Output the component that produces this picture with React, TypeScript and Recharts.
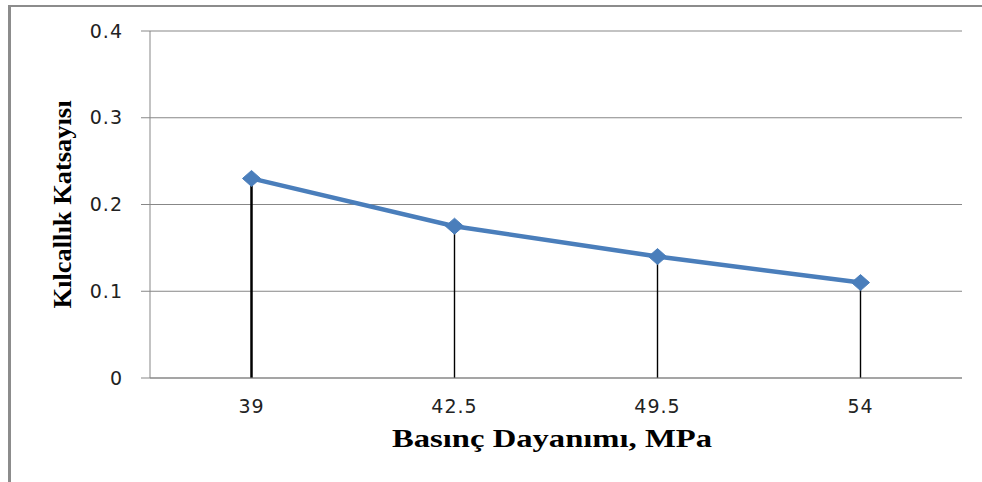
import React from 'react';
import { ComposedChart, Line, Bar, XAxis, YAxis, CartesianGrid, Label } from 'recharts';

const categories = ['39', '42.5', '49.5', '54'];
const kilcallikKatsayisi = [0.23, 0.175, 0.14, 0.11];
const yTicks = [0, 0.1, 0.2, 0.3, 0.4];

const xTitle = 'Basınç Dayanımı, MPa';
const yTitle = 'Kılcallık Katsayısı';

const data = categories.map((c, i) => ({ name: c, value: kilcallikKatsayisi[i] }));

const LINE_COLOR = '#4a7ebb';
const GRID_COLOR = '#878787';

const Diamond = (props: any) => {
  const { cx, cy } = props;
  if (cx == null || cy == null) return null;
  return (
    <polygon
      points={`${cx - 9},${cy} ${cx},${cy - 8} ${cx + 9},${cy} ${cx},${cy + 8}`}
      fill={LINE_COLOR}
      stroke={LINE_COLOR}
      strokeWidth={1}
    />
  );
};

const DropLine = (props: any) => {
  const { x, y, width, height, index } = props;
  if (x == null || y == null) return null;
  const cx = x + width / 2;
  return (
    <line
      x1={cx}
      y1={y}
      x2={cx}
      y2={y + height}
      stroke="#000"
      strokeWidth={index === 0 ? 2.5 : 1.4}
    />
  );
};

const YTitle = (props: any) => {
  const vb = props.viewBox || {};
  const x = (vb.x || 0) + 71;
  const y = (vb.y || 0) + (vb.height || 0) / 2;
  return (
    <text
      x={x}
      y={y}
      transform={`rotate(-90, ${x}, ${y})`}
      textAnchor="middle"
      fontFamily="'Liberation Serif', 'Times New Roman', serif"
      fontWeight="bold"
      fontSize={25}
      fill="#000"
      textLength={208}
      lengthAdjust="spacingAndGlyphs"
    >
      {yTitle}
    </text>
  );
};

const XTitle = (props: any) => {
  const vb = props.viewBox || {};
  const x = (vb.x || 0) + (vb.width || 0) / 2 - 4;
  const y = (vb.y || 0) + 69;
  return (
    <text
      x={x}
      y={y}
      textAnchor="middle"
      fontFamily="'Liberation Serif', 'Times New Roman', serif"
      fontWeight="bold"
      fontSize={25}
      fill="#000"
      textLength={320}
      lengthAdjust="spacingAndGlyphs"
    >
      {xTitle}
    </text>
  );
};

const tickStyle = {
  fontFamily: "'DejaVu Sans', Verdana, sans-serif",
  fontSize: 19,
  fill: '#222',
  letterSpacing: 1,
};

export default function App() {
  return (
    <div
      style={{
        position: 'absolute',
        left: 0,
        top: 0,
        width: 982,
        height: 482,
        overflow: 'hidden',
        background: '#fff',
      }}
    >
      <div
        style={{
          position: 'absolute',
          left: 8,
          top: 5,
          width: 990,
          height: 500,
          borderLeft: '3px solid #8c8c8c',
          borderTop: '2px solid #8c8c8c',
          boxSizing: 'border-box',
        }}
      />
      <div style={{ position: 'absolute', left: 0, top: 0 }}>
        <ComposedChart
          width={982}
          height={482}
          data={data}
          margin={{ top: 31, right: 20, left: 0, bottom: 0 }}
        >
          <CartesianGrid vertical={false} stroke={GRID_COLOR} strokeWidth={1} />
          <XAxis
            dataKey="name"
            height={104}
            axisLine={{ stroke: GRID_COLOR }}
            tickLine={false}
            tickSize={0}
            tickMargin={22}
            tick={tickStyle}
            interval={0}
          >
            <Label content={<XTitle />} />
          </XAxis>
          <YAxis
            width={150}
            domain={[0, 0.4]}
            ticks={yTicks}
            axisLine={{ stroke: GRID_COLOR }}
            tickLine={{ stroke: GRID_COLOR }}
            tickSize={9}
            tickMargin={18}
            tick={tickStyle}
            allowDataOverflow
          >
            <Label content={<YTitle />} />
          </YAxis>
          <Line
            type="linear"
            dataKey="value"
            stroke={LINE_COLOR}
            strokeWidth={4.5}
            dot={<Diamond />}
            activeDot={false}
            isAnimationActive={false}
          />
          <Bar dataKey="value" barSize={3} shape={<DropLine />} isAnimationActive={false} />
        </ComposedChart>
      </div>
    </div>
  );
}
